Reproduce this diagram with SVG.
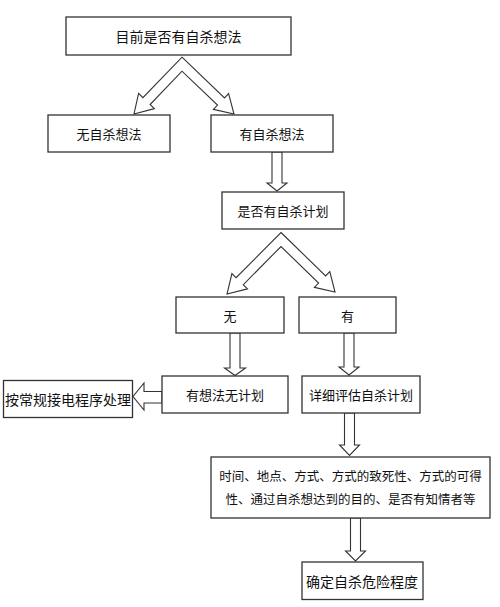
<svg xmlns="http://www.w3.org/2000/svg" width="500" height="607" viewBox="0 0 500 607">
<style>
.box{fill:#fff;stroke:#333;stroke-width:1.3}
.arr{fill:#fff;stroke:#333;stroke-width:1.1;stroke-linejoin:miter}
text{font-family:"Noto Sans CJK SC","Noto Sans",sans-serif;font-size:13px;fill:#111;text-anchor:middle;dominant-baseline:central}
</style>
<rect width="500" height="607" fill="#fff"/>
<g id="connectors">
<polygon class="arr" points="182,57.2 224.5,97.9 228.6,93.6 234,114 213.4,109.4 217.5,105.1 182,71.2 150.1,104.5 154.4,108.6 134,114 138.6,93.4 142.9,97.6"/>
<polygon class="arr" points="272,152 282,152 282,183 287,183 277,191 267,183 272,183"/>
<polygon class="arr" points="281,232.5 325.6,275.9 329.8,271.6 335,292 314.4,287.4 318.6,283.1 281,246.5 243.3,284.7 247.5,288.9 227,294 231.9,273.5 236.1,277.7"/>
<polygon class="arr" points="230,333 240,333 240,368 245.5,368 235,375.5 224.5,368 230,368"/>
<polygon class="arr" points="344,333 354,333 354,367 359,367 349,375 339,367 344,367"/>
<polygon class="arr" points="162,391.5 144,391.5 144,383 133,396.5 144,410 144,403 162,403"/>
<polygon class="arr" points="344.5,413 354.5,413 354.5,445 359.5,445 349.5,455.5 339.5,445 344.5,445"/>
<polygon class="arr" points="350.5,518 360.5,518 360.5,551 365.5,551 355.5,561 345.5,551 350.5,551"/>
</g>
<g id="n1"><rect class="box" x="66" y="17" width="225" height="38"/><text x="178.5" y="36" style="font-size:14px">目前是否有自杀想法</text></g>
<g id="n2"><rect class="box" x="48" y="115" width="122" height="37"/><text x="109" y="133.5">无自杀想法</text></g>
<g id="n3"><rect class="box" x="211" y="115" width="122" height="37"/><text x="272" y="133.5">有自杀想法</text></g>
<g id="n4"><rect class="box" x="222" y="192" width="122" height="37"/><text x="283" y="210.5">是否有自杀计划</text></g>
<g id="n5"><rect class="box" x="176" y="297" width="108" height="36"/><text x="230" y="315.5">无</text></g>
<g id="n6"><rect class="box" x="299" y="297" width="97" height="36"/><text x="347.5" y="315.5">有</text></g>
<g id="n7"><rect class="box" x="3.5" y="380.5" width="129" height="37"/><text x="68" y="399" style="font-size:14px">按常规接电程序处理</text></g>
<g id="n8"><rect class="box" x="162" y="376" width="126" height="37"/><text x="225" y="394.5">有想法无计划</text></g>
<g id="n9"><rect class="box" x="302" y="376" width="118" height="37"/><text x="361" y="394.5">详细评估自杀计划</text></g>
<g id="n10"><rect class="box" x="211" y="457" width="279" height="61"/><text x="350.5" y="475" style="font-size:12.5px">时间、地点、方式、方式的致死性、方式的可得</text><text x="350.5" y="498.5" style="font-size:12.5px">性、通过自杀想达到的目的、是否有知情者等</text></g>
<g id="n11"><rect class="box" x="302" y="562" width="121" height="37.5"/><text x="362" y="581" style="font-size:14px">确定自杀危险程度</text></g>
</svg>
